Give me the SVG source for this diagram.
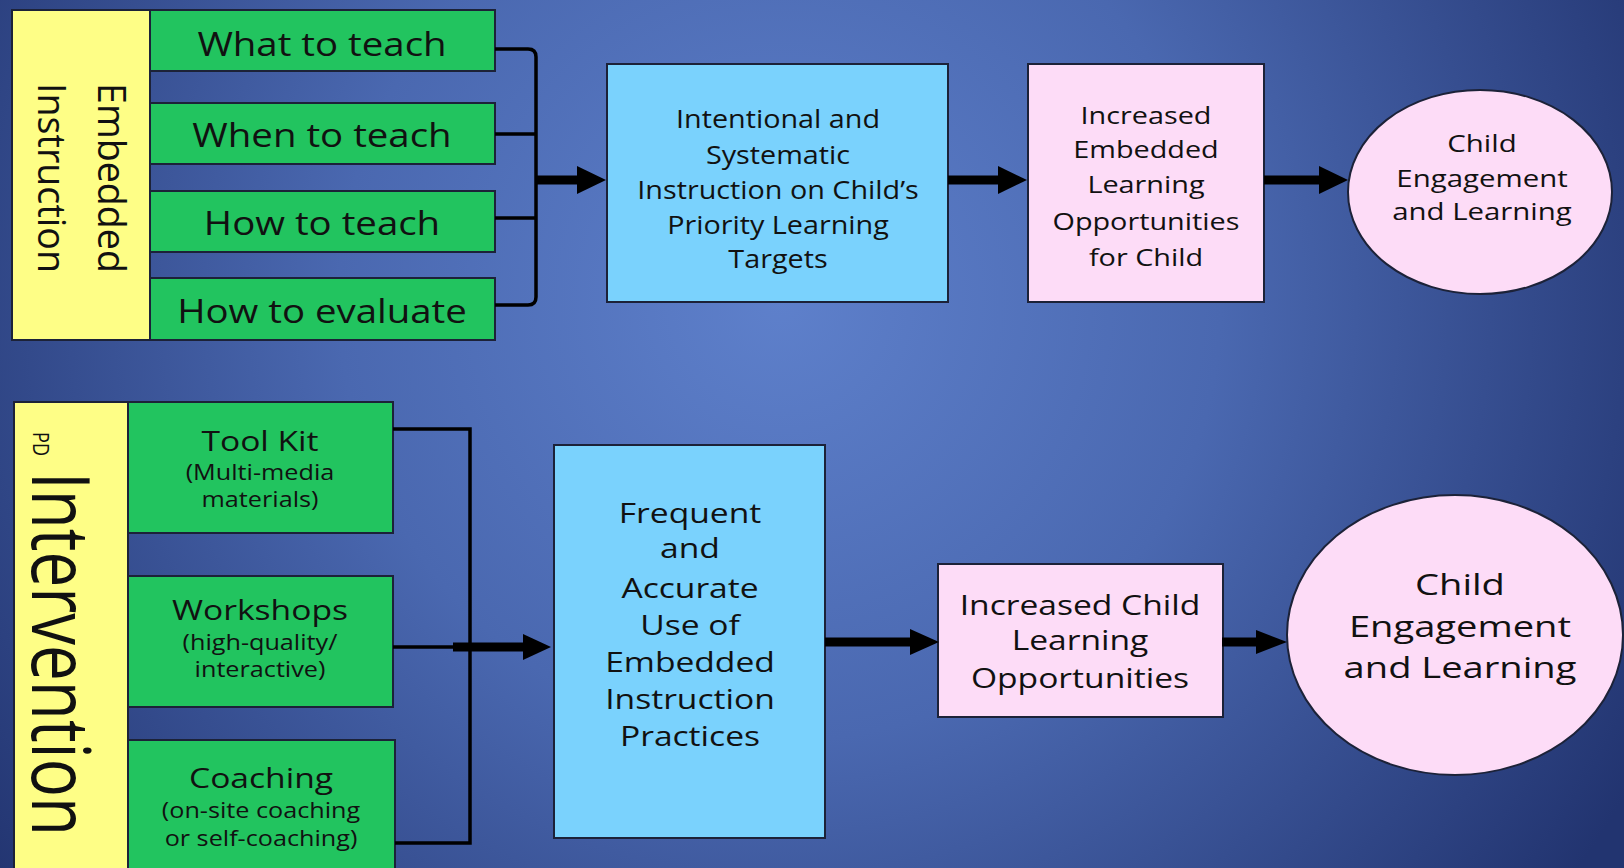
<svg xmlns="http://www.w3.org/2000/svg" width="1624" height="868" viewBox="0 0 1624 868">
<defs>
<radialGradient id="bg" gradientUnits="userSpaceOnUse" cx="780" cy="300" r="980">
<stop offset="0" stop-color="#5e80cb"/>
<stop offset="0.45" stop-color="#4a68b0"/>
<stop offset="1" stop-color="#223470"/>
</radialGradient>
<style>
.yel{fill:#fefe86;stroke:#1c2238;stroke-width:2}
.grn{fill:#22c45f;stroke:#1c2238;stroke-width:2}
.blu{fill:#7ad2fd;stroke:#1c2238;stroke-width:2}
.pnk{fill:#fddcf7;stroke:#1c2238;stroke-width:2}
text{font-family:"Open Sans","Noto Sans",sans-serif;fill:#111;text-anchor:middle}
.vt{text-anchor:start}
.ln{fill:none;stroke:#000;stroke-width:3.5}
.thk{fill:none;stroke:#000;stroke-width:9}
.hd{fill:#000}
</style>
</defs>
<rect x="0" y="0" width="1624" height="868" fill="url(#bg)"/>

<g id="embedded-instruction">
<rect class="yel" x="12" y="10" width="138" height="330"/>
<text class="vt" font-size="32" textLength="190" lengthAdjust="spacingAndGlyphs" transform="translate(98 83) scale(1.2 1) rotate(90)">Embedded</text>
<text class="vt" font-size="32" textLength="190" lengthAdjust="spacingAndGlyphs" transform="translate(38 83) scale(1.2 1) rotate(90)">Instruction</text>
</g>
<g id="what-to-teach">
<rect class="grn" x="150" y="10" width="345" height="61"/>
<text x="322" y="56" font-size="32" transform="translate(322 0) scale(1.2 1) translate(-322 0)">What to teach</text>
</g>
<g id="when-to-teach">
<rect class="grn" x="150" y="103" width="345" height="61"/>
<text x="322" y="147" font-size="32" transform="translate(322 0) scale(1.2 1) translate(-322 0)">When to teach</text>
</g>
<g id="how-to-teach">
<rect class="grn" x="150" y="191" width="345" height="61"/>
<text x="322" y="235" font-size="32" transform="translate(322 0) scale(1.2 1) translate(-322 0)">How to teach</text>
</g>
<g id="how-to-evaluate">
<rect class="grn" x="150" y="278" width="345" height="62"/>
<text x="322" y="323" font-size="32" transform="translate(322 0) scale(1.2 1) translate(-322 0)">How to evaluate</text>
</g>

<g id="intentional">
<rect class="blu" x="607" y="64" width="341" height="238"/>
<g font-size="25" transform="translate(778 0) scale(1.15 1) translate(-778 0)">
<text x="778" y="128">Intentional and</text>
<text x="778" y="164">Systematic</text>
<text x="778" y="199">Instruction on Child’s</text>
<text x="778" y="234">Priority Learning</text>
<text x="778" y="268">Targets</text>
</g>
</g>
<g id="increased-embedded">
<rect class="pnk" x="1028" y="64" width="236" height="238"/>
<g font-size="24" transform="translate(1146 0) scale(1.2 1) translate(-1146 0)">
<text x="1146" y="124">Increased</text>
<text x="1146" y="158">Embedded</text>
<text x="1146" y="193">Learning</text>
<text x="1146" y="230">Opportunities</text>
<text x="1146" y="266">for Child</text>
</g>
</g>
<g id="child-top">
<ellipse class="pnk" cx="1480" cy="192" rx="132" ry="102"/>
<g font-size="24.5" transform="translate(1482 0) scale(1.2 1) translate(-1482 0)">
<text x="1482" y="152">Child</text>
<text x="1482" y="187">Engagement</text>
<text x="1482" y="220">and Learning</text>
</g>
</g>

<g id="pd-intervention">
<rect class="yel" x="14" y="402" width="114" height="470"/>
<text class="vt" font-size="18.5" textLength="24" lengthAdjust="spacingAndGlyphs" transform="translate(33 432) scale(1.2 1) rotate(90)">PD</text>
<text class="vt" font-size="64" textLength="364" lengthAdjust="spacingAndGlyphs" transform="translate(32 472) scale(1.25 1) rotate(90)">Intervention</text>
</g>
<g id="tool-kit">
<rect class="grn" x="128" y="402" width="265" height="131"/>
<g transform="translate(260 0) scale(1.2 1) translate(-260 0)">
<text x="260" y="451" font-size="28">Tool Kit</text>
<text x="260" y="480" font-size="21">(Multi-media</text>
<text x="260" y="507" font-size="21">materials)</text>
</g>
</g>
<g id="workshops">
<rect class="grn" x="128" y="576" width="265" height="131"/>
<g transform="translate(260 0) scale(1.2 1) translate(-260 0)">
<text x="260" y="620" font-size="28">Workshops</text>
<text x="260" y="650" font-size="21">(high-quality/</text>
<text x="260" y="677" font-size="21">interactive)</text>
</g>
</g>
<g id="coaching">
<rect class="grn" x="128" y="740" width="267" height="132"/>
<g transform="translate(261 0) scale(1.2 1) translate(-261 0)">
<text x="261" y="788" font-size="28">Coaching</text>
<text x="261" y="818" font-size="21">(on-site coaching</text>
<text x="261" y="846" font-size="21">or self-coaching)</text>
</g>
</g>

<g id="frequent">
<rect class="blu" x="554" y="445" width="271" height="393"/>
<g font-size="28" transform="translate(690 0) scale(1.2 1) translate(-690 0)">
<text x="690" y="523">Frequent</text>
<text x="690" y="558">and</text>
<text x="690" y="598">Accurate</text>
<text x="690" y="635">Use of</text>
<text x="690" y="672">Embedded</text>
<text x="690" y="709">Instruction</text>
<text x="690" y="746">Practices</text>
</g>
</g>
<g id="increased-child">
<rect class="pnk" x="938" y="564" width="285" height="153"/>
<g font-size="28" transform="translate(1080 0) scale(1.2 1) translate(-1080 0)">
<text x="1080" y="615">Increased Child</text>
<text x="1080" y="650">Learning</text>
<text x="1080" y="688">Opportunities</text>
</g>
</g>
<g id="child-bottom">
<ellipse class="pnk" cx="1455" cy="635" rx="168" ry="140"/>
<g font-size="30" transform="translate(1460 0) scale(1.27 1) translate(-1460 0)">
<text x="1460" y="595">Child</text>
<text x="1460" y="637">Engagement</text>
<text x="1460" y="678">and Learning</text>
</g>
</g>

<g id="connectors">
<path class="ln" d="M495,49 H528 Q536,49 536,57 V297 Q536,305 528,305 H495"/>
<path class="ln" d="M495,134 H536 M495,218 H536"/>
<path class="thk" d="M536,180 H580"/>
<polygon class="hd" points="577,166 606,180 577,194"/>
<path class="thk" d="M948,180 H1001"/>
<polygon class="hd" points="998,166 1027,180 998,194"/>
<path class="thk" d="M1264,180 H1322"/>
<polygon class="hd" points="1319,166 1348,180 1319,194"/>

<path class="ln" stroke-width="5" d="M393,429 H470 V843 H395"/>
<path class="ln" stroke-width="4" d="M393,647 H455"/>
<path class="thk" d="M453,647 H526"/>
<polygon class="hd" points="523,634 551,647 523,660"/>
<path class="thk" d="M825,642 H913"/>
<polygon class="hd" points="910,629 939,642 910,655"/>
<path class="thk" d="M1222,642 H1259"/>
<polygon class="hd" points="1256,630 1287,642 1256,654"/>
</g>
</svg>
